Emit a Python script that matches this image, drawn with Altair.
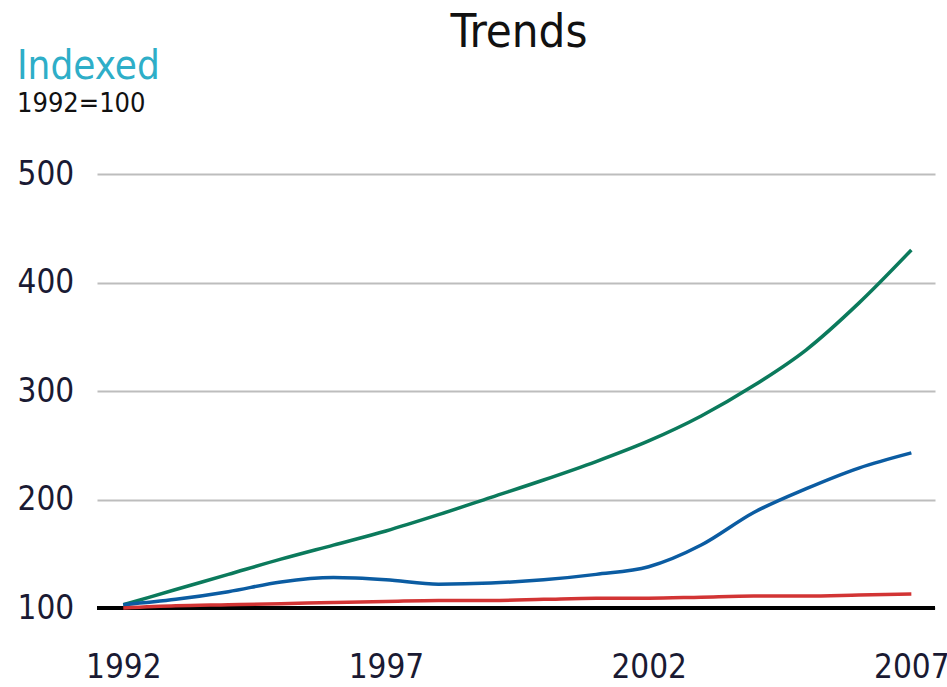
import altair as alt
import pandas as pd

years = list(range(1992, 2008))
green = [103, 117, 131, 145, 158, 171, 186, 202, 218, 235, 254, 277, 305, 338, 381, 430]
blue = [103, 108, 115, 124, 128, 126, 122, 123, 126, 131, 138, 158, 188, 210, 229, 243]
red = [100, 102, 103, 104, 105, 106, 107, 107, 108, 109, 109, 110, 111, 111, 112, 113]
series_names = ["green", "blue", "red"]
series_colors = ["#0b7a5c", "#0b5ca2", "#d23434"]
y_ticks = [100, 200, 300, 400, 500]
x_ticks = [1992, 1997, 2002, 2007]

rows = []
for name, vals in zip(series_names, [green, blue, red]):
    for yr, v in zip(years, vals):
        rows.append({"year": yr, "value": v, "series": name})
df = pd.DataFrame(rows)

FONT = "DejaVu Sans Condensed"
W, H = 838, 434

x = alt.X("year:Q", scale=alt.Scale(domain=[1991.5, 2007.45], nice=False, zero=False),
          axis=alt.Axis(values=x_ticks, format="d", title=None, grid=False, domain=False,
                        ticks=False, tickSize=0, labelPadding=43, labelFontSize=33,
                        labelFont=FONT, labelColor="#1a1a33", labelBaseline="top"))
y = alt.Y("value:Q", scale=alt.Scale(domain=[100, 500], nice=False, zero=False),
          axis=alt.Axis(values=y_ticks, title=None, grid=True, gridColor="#bdbdbd",
                        gridWidth=2, domain=False, ticks=False, tickSize=0,
                        labelPadding=80, labelAlign="left", labelBaseline="middle",
                        labelFontSize=33, labelFont=FONT, labelColor="#1a1a33"))

lines = alt.Chart(df).mark_line(strokeWidth=3.5, interpolate="monotone", clip=False).encode(
    x=x, y=y,
    color=alt.Color("series:N", scale=alt.Scale(domain=series_names, range=series_colors),
                    legend=None),
)

base_rule = alt.Chart(pd.DataFrame({"v": [100]})).mark_rule(color="black", strokeWidth=4).encode(
    y=alt.Y("v:Q", scale=alt.Scale(domain=[100, 500], nice=False, zero=False)),
    x=alt.value(0), x2=alt.value(W),
)

def label(text, px, py, size, color, align="left"):
    return alt.Chart(pd.DataFrame({"t": [text]})).mark_text(
        fontSize=size, font=FONT, color=color, align=align, baseline="alphabetic"
    ).encode(text="t:N", x=alt.value(px), y=alt.value(py))

title = label("Trends", W / 2 + 3, -127, 47, "#111111", align="center")
indexed = label("Indexed", -80, -95, 40, "#2eaec8")
base_note = label("1992=100", -80, -62, 27, "#111111")

chart = alt.layer(base_rule, lines, title, indexed, base_note).properties(
    width=W, height=H,
    autosize=alt.AutoSizeParams(type="none"),
    padding={"left": 97, "top": 174, "right": 12, "bottom": 79},
).configure_view(stroke=None)

chart.save("out.html", embed_options={"renderer": "svg", "actions": False})
